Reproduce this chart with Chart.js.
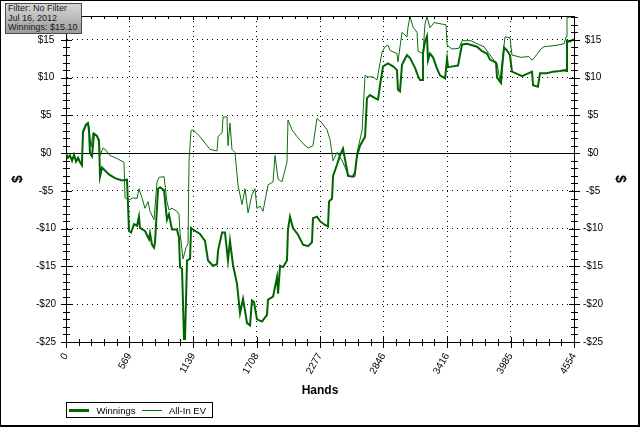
<!DOCTYPE html>
<html>
<head>
<meta charset="utf-8">
<script src="https://cdn.jsdelivr.net/npm/chart.js@4.4.1/dist/chart.umd.min.js"></script>
<style>
  html, body { margin: 0; padding: 0; background: #fff; }
  #wrap { position: relative; width: 640px; height: 427px; overflow: hidden; font-family: "Liberation Sans", Arial, sans-serif; }
  #chart { position: absolute; left: 0; top: 0; }
  #frame { position: absolute; left: 0; top: 0; width: 640px; height: 427px; box-sizing: border-box;
           border-style: solid; border-color: #000; border-width: 1px 2px 2px 1px; pointer-events: none; }
  #info { position: absolute; left: 5px; top: 3px; width: 77px; height: 31px; box-sizing: border-box;
          border: 1px solid #4a4a4a; background: linear-gradient(#d6d6d6, #9c9c9c);
          font-size: 9px; line-height: 9.5px; color: #1a1a1a; padding: 0 0 0 2px; white-space: nowrap; overflow: hidden; }
  #legend { position: absolute; left: 66px; top: 402px; width: 147px; height: 16px; box-sizing: border-box;
            border: 1px solid #000; display: flex; align-items: center; padding-left: 2px;
            font-size: 9.5px; color: #000; white-space: nowrap; }
  #legend .swatch { display: inline-block; width: 22px; margin-right: 7px; }
  #legend .lbl { margin-right: 6px; }
</style>
</head>
<body>
<div id="wrap">
  <canvas id="chart" width="640" height="427"></canvas>
  <div id="info"></div>
  <div id="legend"></div>
  <div id="frame"></div>
</div>
<script>
// axis ticks
const xTickValues = [0, 569, 1139, 1708, 2277, 2846, 3416, 3985, 4554];
const yTickValues = [-25, -20, -15, -10, -5, 0, 5, 10, 15];
const Y_MIN = -25;
const Y_MAX = 18.17;

const seriesNames = ['Winnings', 'All-In EV'];
const infoLines = ['Filter: No Filter', 'Jul 16, 2012', 'Winnings: $15.10'];

// Winnings (thick line)
const winHands = [0,18,36,54,72,90,108,126,143,152,
  179,197,206,215,233,251,278,296,305,323,
  350,385,439,502,547,565,583,610,637,654,
  663,708,744,753,771,789,798,825,843,879,
  905,923,950,995,1013,1022,1040,1058,1067,1085,
  1112,1121,1139,1201,1246,1273,1318,1354,1363,1399,
  1425,1452,1470,1497,1533,1560,1587,1623,1650,1667,
  1685,1712,1757,1802,1811,1856,1892,1901,1919,1945,
  1981,1990,2008,2035,2080,2125,2170,2205,2214,2250,
  2277,2322,2349,2358,2385,2394,2430,2456,2483,2519,
  2528,2573,2591,2609,2636,2681,2698,2725,2770,2797,
  2815,2842,2887,2932,2967,2976,2994,3012,3039,3057,
  3084,3129,3156,3174,3192,3200,3218,3236,3245,3263,
  3290,3326,3353,3398,3416,3425,3469,3514,3550,3595,
  3640,3685,3729,3774,3801,3855,3864,3900,3909,3927,
  3954,3980,3998,4043,4088,4133,4178,4187,4231,4249,
  4312,4366,4429,4474,4483,4491,4518,4554];
const winValues = [0,-0.6,-0.3,-1.0,-0.2,-1.1,-0.6,-1.2,-1.6,2.8,
  3.8,4.0,3.0,0,-0.4,2.6,2.3,1.6,-3.1,-1.9,
  -2.3,-2.8,-3.3,-3.6,-3.5,-10.3,-10.5,-9.4,-9.6,-8.4,
  -9.9,-10.3,-11.4,-10.6,-12.1,-12.5,-11.8,-4.7,-4.5,-4.9,
  -8.8,-8.1,-10.1,-10.1,-11.2,-15.1,-15.3,-24.6,-24.6,-14.2,
  -14.0,-9.9,-10.1,-10.7,-11.6,-14.2,-14.9,-14.7,-12.9,-10.5,
  -10.5,-14.2,-11.6,-14.8,-17.3,-21.2,-19.3,-22.5,-22.8,-19.5,
  -19.7,-22.0,-22.3,-21.4,-19.4,-19.0,-16.4,-18.6,-14.9,-15.1,
  -14.2,-10.1,-8.4,-9.9,-10.8,-12.1,-12.3,-11.8,-8.6,-8.4,
  -9.0,-9.5,-9.7,-6.4,-6.0,-3.0,-1.5,-0.3,0.6,-2.2,
  -3.0,-3.1,-2.5,-0.3,1.0,2.2,7.3,7.7,7.3,7.1,
  9.0,11.5,11.9,11.5,11.0,8.4,8.2,11.7,12.5,13.0,
  12.6,11.3,10.2,9.7,9.7,13.2,14.8,15.5,12.3,13.2,
  12.7,11.2,10.3,9.9,12.5,11.4,11.5,11.6,14.4,14.5,
  14.3,14.1,13.5,13.2,12.4,12.0,10.0,9.3,11.3,14.0,
  13.6,13.0,10.8,10.5,10.2,10.5,10.8,9.0,8.8,10.6,
  10.6,10.8,10.9,11.0,10.9,14.9,14.8,15.1];

// All-In EV (thin line)
const evHands = [0,18,36,54,72,90,108,126,143,152,
  179,197,206,224,242,269,296,305,332,359,
  394,457,520,529,565,601,637,654,681,708,
  735,753,789,816,834,879,905,923,950,995,
  1013,1022,1049,1076,1094,1103,1121,1139,1201,1291,
  1354,1363,1399,1408,1443,1452,1470,1488,1515,1542,
  1578,1605,1632,1667,1694,1712,1739,1766,1811,1856,
  1874,1901,1936,1981,1990,2026,2071,2116,2170,2214,
  2250,2295,2340,2367,2394,2430,2483,2519,2546,2591,
  2609,2654,2681,2707,2752,2788,2815,2833,2860,2887,
  2905,2967,2976,3012,3057,3066,3084,3111,3147,3156,
  3200,3218,3236,3263,3299,3407,3416,3460,3523,3550,
  3631,3685,3747,3792,3837,3864,3891,3918,3936,3980,
  3998,4079,4151,4178,4196,4258,4285,4402,4465,4483,
  4491,4554];
const evValues = [0,-0.6,-0.3,-1.0,-0.2,-1.1,-0.6,-1.2,-1.6,2.6,
  3.6,4.1,3.5,0.8,2.7,2.3,1.9,-0.3,0.7,0.4,
  -0.3,-0.7,-1.2,-5.9,-6.2,-5.9,-6.0,-4.7,-5.9,-7.3,
  -6.4,-7.7,-8.8,-3.8,-3.2,-3.1,-6.4,-7.5,-7.3,-7.7,
  -8.1,-10.5,-14.0,-12.5,-12.0,-1.0,3.0,3.1,2.2,0.5,
  0.3,2.2,2.7,4.8,4.8,1.0,4.0,0.5,0.1,-4.2,
  -6.8,-4.7,-7.9,-5.5,-4.7,-7.3,-7.0,-7.7,-4.2,-3.8,
  -0.3,-3.4,-3.8,-1.2,4.4,3.1,2.2,1.4,0.7,1.0,
  4.6,4.0,3.1,1.8,-1.0,0.1,-1.2,-2.5,-3.1,-3.1,
  0.1,3.0,10.3,10.1,10.1,9.7,11.9,13.4,14.1,14.3,
  13.6,13.2,12.1,16.0,15.4,16.7,18.1,16.7,16.0,13.5,
  13.2,17.1,18.1,16.6,17.3,17.0,14.3,13.8,13.9,14.9,
  14.9,14.5,14.1,13.2,12.3,11.9,9.5,13.2,15.4,15.3,
  13.0,12.7,12.8,12.3,12.6,13.8,14.1,14.3,14.5,15.4,
  18.0,18.1];

const toPoints = (xs, ys) => xs.map((x, i) => ({ x: x, y: ys[i] }));
const dollar = (v) => (v < 0 ? '-$' : '$') + Math.abs(v);

// zero line under the data, tick marks and top frame on top
const axisMarks = {
  id: 'axisMarks',
  beforeDatasetsDraw(chart) {
    const { ctx, chartArea: a, scales } = chart;
    const y0 = Math.round(scales.y.getPixelForValue(0)) + 0.5;
    ctx.save();
    ctx.strokeStyle = '#000';
    ctx.lineWidth = 1;
    ctx.beginPath();
    ctx.moveTo(a.left, y0);
    ctx.lineTo(a.right, y0);
    ctx.stroke();
    ctx.restore();
  },
  afterDraw(chart) {
    const { ctx, chartArea: a, scales } = chart;
    ctx.save();
    ctx.strokeStyle = '#000';
    ctx.lineWidth = 1;
    ctx.beginPath();
    const top = Math.round(a.top) + 0.5;
    ctx.moveTo(a.left, top);
    ctx.lineTo(a.right + 1, top);
    // y ticks, one per dollar
    for (let v = Y_MIN; v <= Math.floor(Y_MAX); v++) {
      const py = Math.round(scales.y.getPixelForValue(v)) + 0.5;
      const len = v % 5 === 0 ? 5 : 3;
      ctx.moveTo(a.left - len, py); ctx.lineTo(a.left + len + 1, py);
      ctx.moveTo(a.right - len, py); ctx.lineTo(a.right + len + 1, py);
    }
    // x ticks, four minor between each labelled one
    for (let i = 0; i < xTickValues.length; i++) {
      const steps = i < xTickValues.length - 1 ? 5 : 1;
      for (let j = 0; j < steps; j++) {
        const v = i < xTickValues.length - 1
          ? xTickValues[i] + (xTickValues[i + 1] - xTickValues[i]) * j / 5
          : xTickValues[i];
        const px = Math.round(scales.x.getPixelForValue(v)) + 0.5;
        const len = j === 0 ? 5 : 3;
        ctx.moveTo(px, a.bottom - len); ctx.lineTo(px, a.bottom + len + 1);
        ctx.moveTo(px, a.top); ctx.lineTo(px, a.top + (j === 0 ? 4 : 3));
      }
    }
    ctx.stroke();
    ctx.restore();
  }
};

const tickFont = { family: '"Liberation Sans", Arial, sans-serif', size: 10 };
const titleFont = { family: '"Liberation Sans", Arial, sans-serif', size: 14, weight: 'bold' };

const yAxis = (position, pad, titlePad) => ({
  type: 'linear',
  position: position,
  min: Y_MIN,
  max: Y_MAX,
  afterBuildTicks: (axis) => { axis.ticks = yTickValues.map(v => ({ value: v })); },
  afterFit: (axis) => { axis.width = 66; },
  ticks: { font: tickFont, color: '#000', padding: pad, crossAlign: 'center', callback: (v) => dollar(v) },
  grid: { drawOnChartArea: position === 'left', drawTicks: false, color: '#000', lineWidth: 1 },
  border: { display: true, color: '#000', width: 1, dash: [1, 4] },
  title: { display: true, text: '$', font: titleFont, color: '#000', padding: { top: titlePad, bottom: 0 } }
});

const chart = new Chart(document.getElementById('chart'), {
  type: 'line',
  data: {
    datasets: [
      {
        label: seriesNames[0],
        data: toPoints(winHands, winValues),
        borderColor: '#006400',
        borderWidth: 2,
        pointRadius: 0,
        tension: 0,
      },
      {
        label: seriesNames[1],
        data: toPoints(evHands, evValues),
        borderColor: '#0b6e0b',
        borderWidth: 1,
        pointRadius: 0,
        tension: 0,
      },
    ],
  },
  options: {
    responsive: false,
    animation: false,
    devicePixelRatio: 1,
    layout: { padding: { top: 12, left: 0, right: 0, bottom: 0 } },
    plugins: { legend: { display: false }, tooltip: { enabled: false } },
    scales: {
      x: {
        type: 'linear',
        min: 0,
        max: 4554,
        afterBuildTicks: (axis) => { axis.ticks = xTickValues.map(v => ({ value: v })); },
        afterFit: (axis) => { axis.height = 85; },
        ticks: { font: tickFont, color: '#000', autoSkip: false, minRotation: 60, maxRotation: 60, padding: 9,
                 callback: (v) => String(v) },
        grid: { drawTicks: false, color: '#000', lineWidth: 1 },
        border: { display: true, color: '#000', width: 1, dash: [1, 4] },
        title: { display: true, text: 'Hands', color: '#000',
                 font: { family: '"Liberation Sans", Arial, sans-serif', size: 12, weight: 'bold' },
                 padding: { top: 0, bottom: 29 } }
      },
      y: yAxis('left', 10, 10),
      y2: yAxis('right', 9, 12)
    }
  },
  plugins: [axisMarks]
});

// info box
document.getElementById('info').innerHTML = infoLines.map(t => '<div>' + t + '</div>').join('');

// legend built from the datasets
const legendEl = document.getElementById('legend');
chart.data.datasets.forEach(ds => {
  const sw = document.createElement('span');
  sw.className = 'swatch';
  sw.style.height = ds.borderWidth < 2 ? '1px' : '3px';
  sw.style.background = ds.borderColor;
  const lbl = document.createElement('span');
  lbl.className = 'lbl';
  lbl.textContent = ds.label;
  legendEl.appendChild(sw);
  legendEl.appendChild(lbl);
});
</script>
</body>
</html>
